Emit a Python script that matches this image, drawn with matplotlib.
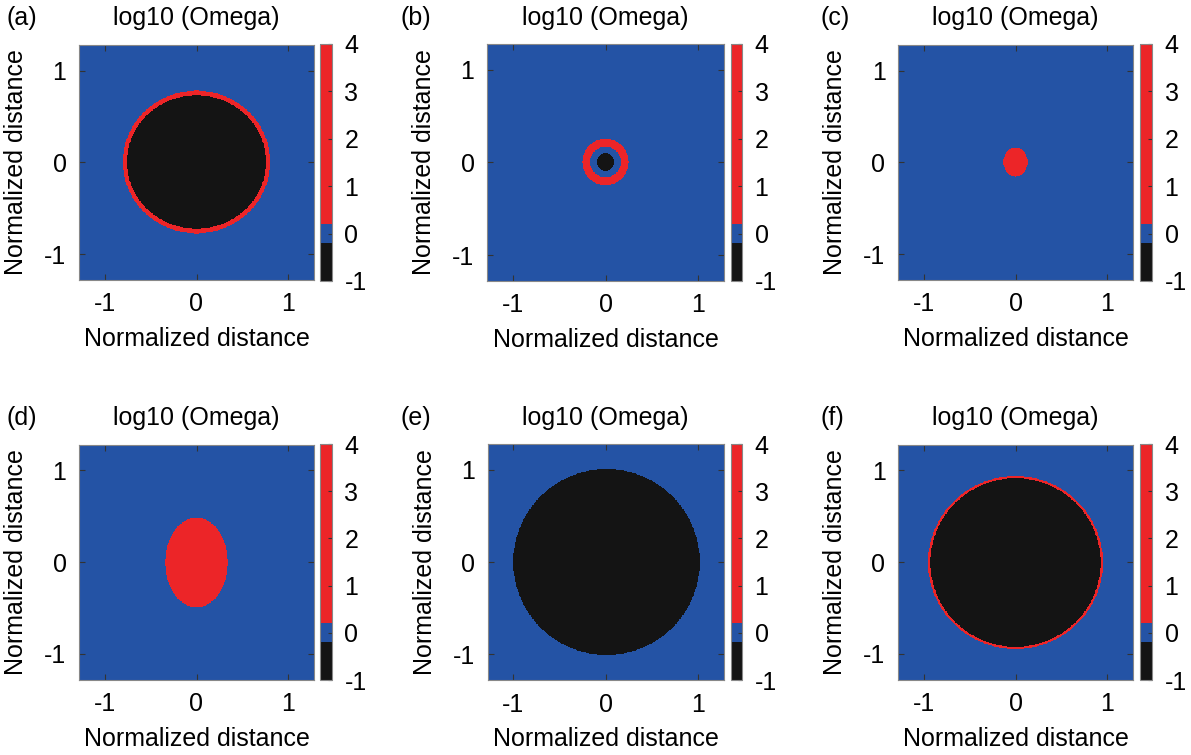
import numpy as np
import matplotlib
matplotlib.use('Agg')
import matplotlib.pyplot as plt
from matplotlib.colors import ListedColormap

plt.rcParams['font.family'] = ['Liberation Sans', 'DejaVu Sans']
plt.rcParams['axes.unicode_minus'] = False

# panel letters and the nested elliptical regions of log10(Omega)
# each region: (radius x, radius y, value), drawn from outer to inner
panel_names = ['(a)', '(b)', '(c)', '(d)', '(e)', '(f)']
regions_a = [(0.805, 0.775, 4.0), (0.76, 0.725, -1.0)]
regions_b = [(0.25, 0.25, 4.0), (0.165, 0.165, 0.0), (0.095, 0.095, -1.0)]
regions_c = [(0.13, 0.16, 4.0)]
regions_d = [(0.34, 0.49, 4.0)]
regions_e = [(1.01, 1.01, -1.0)]
regions_f = [(0.955, 0.945, 4.0), (0.93, 0.92, -1.0)]
all_regions = [regions_a, regions_b, regions_c, regions_d, regions_e, regions_f]
background = 0.0

lim = 1.28
ticks = [-1, 0, 1]
cb_ticks = [-1, 0, 1, 2, 3, 4]
title = 'log10 (Omega)'
axis_label = 'Normalized distance'

# colormap: 25 steps from -1 to 4
black = '#141414'
blue = '#2453a5'
red = '#ec2528'
cmap = ListedColormap([black] * 4 + [blue] * 2 + [red] * 19)

W, H = 1191, 755
fig = plt.figure(figsize=(W / 100, H / 100), dpi=100)

def rect(l, t, r, b):
    return [l / W, 1 - b / H, (r - l) / W, (b - t) / H]

col_ax = [(79, 314), (487, 724), (898, 1133)]
col_cb = [(320, 332), (731, 742), (1140, 1152)]
row_y = [(44, 281), (444, 680)]
letter_x = [6, 400, 820]

n = 401
xs = np.linspace(-lim, lim, n)
X, Y = np.meshgrid(xs, xs)

for k, regs in enumerate(all_regions):
    r, c = divmod(k, 3)
    t, b = row_y[r]
    l, rr = col_ax[c]
    ax = fig.add_axes(rect(l, t, rr, b))
    Z = np.full(X.shape, background)
    for rx, ry, v in regs:
        Z[(X / rx) ** 2 + (Y / ry) ** 2 <= 1] = v
    im = ax.imshow(Z, extent=[-lim, lim, -lim, lim], origin='lower',
                   cmap=cmap, vmin=-1, vmax=4, interpolation='nearest')
    ax.set_xlim(-lim, lim)
    ax.set_ylim(-lim, lim)
    ax.set_xticks(ticks)
    ax.set_yticks(ticks)
    ax.tick_params(direction='in', top=True, right=True, length=4,
                   color='#333333', labelsize=18, pad=9)
    for s in ax.spines.values():
        s.set_color('#888888')
        s.set_linewidth(0.8)
    ax.set_xlabel(axis_label, fontsize=18)
    ax.set_ylabel(axis_label, fontsize=18)
    ax.xaxis.set_label_coords(0.5, -0.20)
    ax.yaxis.set_label_coords(-0.215, 0.5)

    cl, cr = col_cb[c]
    cax = fig.add_axes(rect(cl, t, cr, b))
    cb = fig.colorbar(im, cax=cax, ticks=cb_ticks)
    cb.outline.set_edgecolor('#888888')
    cb.outline.set_linewidth(0.8)
    cax.tick_params(direction='in', length=3, color='#333333',
                    labelsize=18, pad=9)

    fig.text((l + rr) / 2 / W, 1 - (t - 26) / H, title, fontsize=18,
             ha='center', va='center')
    fig.text(letter_x[c] / W, 1 - (t - 26) / H, panel_names[k], fontsize=18,
             ha='left', va='center')

fig.savefig('out.png', dpi=100)
